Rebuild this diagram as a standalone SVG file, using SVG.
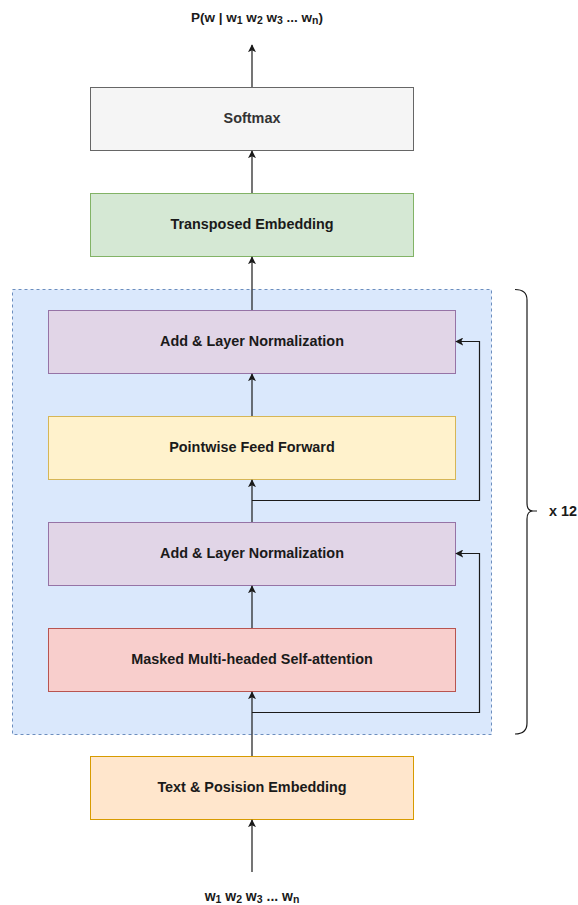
<svg xmlns="http://www.w3.org/2000/svg" width="578" height="905" viewBox="0 0 578 905">
  <style>
    text { font-family: "Liberation Sans", Arial, sans-serif; font-weight: bold; font-size: 14.4px; fill: #1a1a1a; text-anchor: middle; dominant-baseline: central; }
    .label { font-size: 14px; }
    .top { font-size: 13.5px; }
    .sub { font-size: 10.5px; }
    .edge { fill: none; stroke: #1a1a1a; stroke-width: 1.2; }
  </style>
  <defs>
    <marker id="arrow" viewBox="0 0 10 10" refX="9" refY="5" markerWidth="8" markerHeight="8" orient="auto" markerUnits="userSpaceOnUse">
      <path d="M0,0 L10,5 L0,10 L2.5,5 Z" fill="#1a1a1a"/>
    </marker>
  </defs>

  <!-- repeated decoder block container -->
  <g id="decoder-block">
    <rect x="12.5" y="289.5" width="479" height="445" fill="#dae8fc" stroke="#6c8ebf" stroke-dasharray="3 3"/>
  </g>

  <g id="softmax">
    <rect x="90.5" y="87.5" width="323" height="63" fill="#f5f5f5" stroke="#666666"/>
    <text x="252" y="118" style="fill:#333333">Softmax</text>
  </g>
  <g id="transposed-embedding">
    <rect x="90.5" y="193.5" width="323" height="63" fill="#d5e8d4" stroke="#82b366"/>
    <text x="252" y="224">Transposed Embedding</text>
  </g>
  <g id="add-norm-2">
    <rect x="48.5" y="310.5" width="407" height="63" fill="#e1d5e7" stroke="#9673a6"/>
    <text x="252" y="341">Add &amp; Layer Normalization</text>
  </g>
  <g id="feed-forward">
    <rect x="48.5" y="416.5" width="407" height="63" fill="#fff2cc" stroke="#d6b656"/>
    <text x="252" y="447">Pointwise Feed Forward</text>
  </g>
  <g id="add-norm-1">
    <rect x="48.5" y="522.5" width="407" height="63" fill="#e1d5e7" stroke="#9673a6"/>
    <text x="252" y="553">Add &amp; Layer Normalization</text>
  </g>
  <g id="self-attention">
    <rect x="48.5" y="628.5" width="407" height="63" fill="#f8cecc" stroke="#b85450"/>
    <text x="252" y="659">Masked Multi-headed Self-attention</text>
  </g>
  <g id="embedding">
    <rect x="90.5" y="756.5" width="323" height="63" fill="#ffe6cc" stroke="#d79b00"/>
    <text x="252" y="787">Text &amp; Posision Embedding</text>
  </g>

  <g id="output-label">
    <text class="top" x="257" y="17">P(w | w<tspan class="sub" dy="3">1</tspan><tspan dy="-3"> w</tspan><tspan class="sub" dy="3">2</tspan><tspan dy="-3"> w</tspan><tspan class="sub" dy="3">3</tspan><tspan dy="-3"> ... w</tspan><tspan class="sub" dy="3">n</tspan><tspan dy="-3">)</tspan></text>
  </g>
  <g id="input-label">
    <text class="label" x="252" y="896">w<tspan class="sub" dy="3">1</tspan><tspan dy="-3"> w</tspan><tspan class="sub" dy="3">2</tspan><tspan dy="-3"> w</tspan><tspan class="sub" dy="3">3</tspan><tspan dy="-3"> ... w</tspan><tspan class="sub" dy="3">n</tspan></text>
  </g>

  <g id="repeat">
    <path d="M515,289.5 Q527,289.5 527,300 L527,503 Q527,511 533,511 L537,511 M533,511 Q527,511 527,519 L527,723 Q527,734 515,734" fill="none" stroke="#1a1a1a" stroke-width="1.2"/>
    <text x="563" y="511">x 12</text>
  </g>

  <g id="connectors">
    <path class="edge" d="M252,872 L252,820" marker-end="url(#arrow)"/>
    <path class="edge" d="M252,756 L252,692" marker-end="url(#arrow)"/>
    <path class="edge" d="M252,712.5 L479.5,712.5 L479.5,553.5 L456,553.5" marker-end="url(#arrow)"/>
    <path class="edge" d="M252,628 L252,586" marker-end="url(#arrow)"/>
    <path class="edge" d="M252,522 L252,480" marker-end="url(#arrow)"/>
    <path class="edge" d="M252,500.5 L479.5,500.5 L479.5,341.5 L456,341.5" marker-end="url(#arrow)"/>
    <path class="edge" d="M252,416 L252,374" marker-end="url(#arrow)"/>
    <path class="edge" d="M252,310 L252,257" marker-end="url(#arrow)"/>
    <path class="edge" d="M252,193 L252,151" marker-end="url(#arrow)"/>
    <path class="edge" d="M252,87 L252,45" marker-end="url(#arrow)"/>
  </g>
</svg>
